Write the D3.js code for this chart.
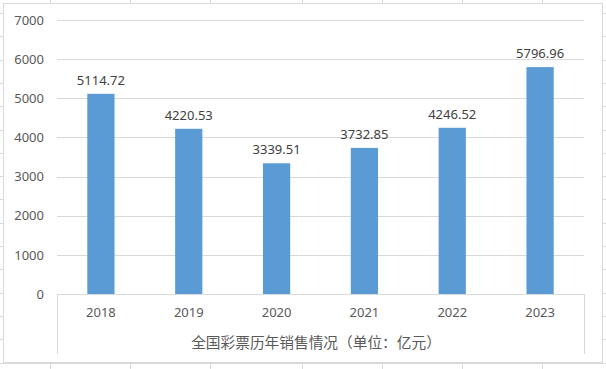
<!DOCTYPE html>
<html><head><meta charset="utf-8">
<script src="https://cdn.jsdelivr.net/npm/d3@7"></script>
<style>body{margin:0;background:#fff}svg{display:block}</style>
</head><body>
<svg id="c" width="606" height="369"></svg>
<script>
const categories = ["2018","2019","2020","2021","2022","2023"];
const values = [5114.72, 4220.53, 3339.51, 3732.85, 4246.52, 5796.96];
const yTicks = [0,1000,2000,3000,4000,5000,6000,7000];
const axisTitle = "全国彩票历年销售情况（单位：亿元）";

const svg = d3.select("#c");
const W = 606, H = 369;
// spreadsheet background grid
const colXs = [50,130,210,302,382,462,542];
const g0 = svg.append("g").attr("stroke","#d9d9d9").attr("stroke-width",1);
colXs.forEach(x=>g0.append("line").attr("x1",x+0.5).attr("x2",x+0.5).attr("y1",0).attr("y2",H));
for(let y=13; y<H; y+=23.3){ g0.append("line").attr("x1",0).attr("x2",W).attr("y1",Math.round(y)+0.5).attr("y2",Math.round(y)+0.5); }
// chart area
svg.append("rect").attr("x",3.5).attr("y",3.5).attr("width",599).attr("height",359)
  .attr("fill","#fff").attr("stroke","#d9d9d9");

const x0=57, x1=584, yTop=20, yBot=294;
const x = d3.scaleBand().domain(categories).range([x0,x1]).paddingInner(0.69).paddingOuter(0.345);
const y = d3.scaleLinear().domain([0,7000]).range([yBot,yTop]);

const font = "'Noto Sans','Noto Sans CJK SC',sans-serif";
// gridlines
svg.append("g").selectAll("line").data(yTicks.filter(d=>d>0)).join("line")
  .attr("x1",x0).attr("x2",x1).attr("y1",d=>Math.round(y(d))+0.5).attr("y2",d=>Math.round(y(d))+0.5)
  .attr("stroke","#d9d9d9");
// y axis labels
const ya = d3.axisLeft(y).tickValues(yTicks).tickSize(0).tickPadding(0).tickFormat(d3.format("d"));
const yg = svg.append("g").attr("transform",`translate(44,0)`).call(ya);
yg.select(".domain").remove();
yg.selectAll("text").attr("fill","#595959").style("font-family",font).style("font-size","13px");

// bars
svg.append("g").selectAll("rect").data(values).join("rect")
  .attr("x",(d,i)=>x(categories[i])).attr("width",x.bandwidth())
  .attr("y",d=>y(d)).attr("height",d=>yBot-y(d)).attr("fill","#5b9bd5");
// value labels
svg.append("g").selectAll("text").data(values).join("text")
  .attr("x",(d,i)=>x(categories[i])+x.bandwidth()/2).attr("y",d=>y(d)-9)
  .attr("text-anchor","middle").attr("fill","#404040")
  .style("font-family",font).style("font-size","13px").text(d=>d.toFixed(2));

// category axis box
const ax = svg.append("g").attr("stroke","#d9d9d9").attr("fill","none");
ax.append("line").attr("x1",x0).attr("x2",x1).attr("y1",yBot+0.5).attr("y2",yBot+0.5);
ax.append("line").attr("x1",x0+0.5).attr("x2",x0+0.5).attr("y1",yBot).attr("y2",354);
ax.append("line").attr("x1",x1+0.5).attr("x2",x1+0.5).attr("y1",yBot).attr("y2",354);
const xa = d3.axisBottom(x).tickSize(0).tickPadding(0);
const xg = svg.append("g").attr("transform",`translate(0,${yBot+14})`).call(xa);
xg.select(".domain").remove();
xg.selectAll("text").attr("fill","#595959").style("font-family",font).style("font-size","13px");
svg.append("text").attr("x",316).attr("y",347.5).attr("text-anchor","middle")
  .attr("fill","#595959").style("font-family","'Noto Sans CJK SC',sans-serif").style("font-size","14.7px").text(axisTitle);
</script>
</body></html>
